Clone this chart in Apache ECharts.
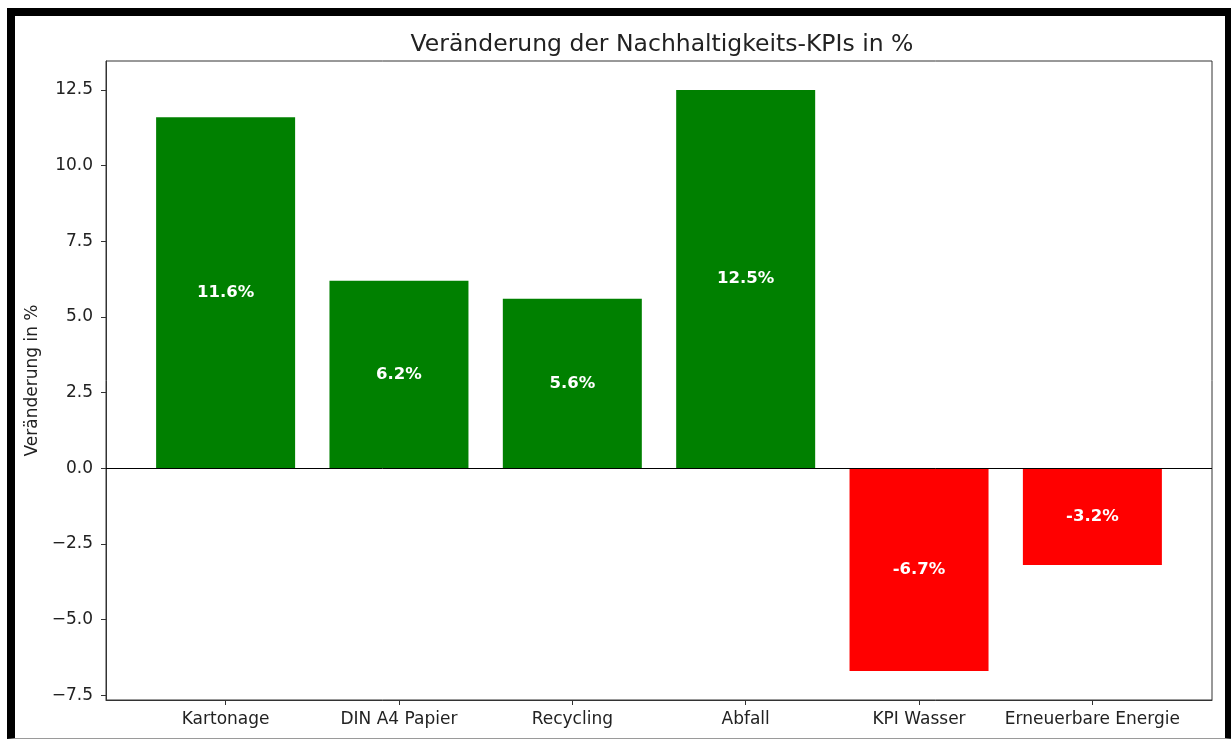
<!DOCTYPE html>
<html>
<head>
<meta charset="utf-8">
<script src="https://cdn.jsdelivr.net/npm/echarts@6/dist/echarts.min.js"></script>
<style>
  html, body { margin: 0; padding: 0; background: #fff; }
  .frame {
    position: absolute;
    left: 7px;
    top: 8px;
    width: 1226px;
    height: 731px;
    box-sizing: border-box;
    border: 8px solid #000;
    border-bottom: 1px solid #9a9a9a;
    background: #fff;
  }
  #chart {
    position: absolute;
    left: 0;
    top: 0;
    width: 1231px;
    height: 740px;
  }
</style>
</head>
<body>
<div class="frame"></div>
<div id="chart"></div>
<script>
const categories = ['Kartonage', 'DIN A4 Papier', 'Recycling', 'Abfall', 'KPI Wasser', 'Erneuerbare Energie']
const changes = [11.6, 6.2, 5.6, 12.5, -6.7, -3.2]
const yTicks = [-7.5, -5.0, -2.5, 0.0, 2.5, 5.0, 7.5, 10.0, 12.5]
const xTicks = categories.map((_, i) => i)

const font = 'DejaVu Sans'
const inkColor = '#222'
const spineColor = '#333'

const chart = echarts.init(document.getElementById('chart'), null, { renderer: 'canvas' })

const barData = changes.map((value, index) => ({
  value: [index, value],
  itemStyle: { color: value >= 0 ? '#008000' : '#ff0000' },
}))

chart.setOption({
  backgroundColor: 'transparent',
  animation: false,
  textStyle: { fontFamily: font },
  title: {
    text: 'Veränderung der Nachhaltigkeits-KPIs in %',
    left: 657,
    top: 28,
    textAlign: 'center',
    textStyle: { fontFamily: font, fontSize: 23.5, fontWeight: 'normal', color: inkColor },
  },
  grid: {
    left: 106,
    top: 61,
    width: 1106,
    height: 639,
    show: true,
    borderColor: spineColor,
    borderWidth: 1,
    backgroundColor: 'transparent',
  },
  xAxis: {
    type: 'value',
    min: -0.69,
    max: 5.69,
    splitLine: { show: false },
    axisLine: { show: true, onZero: false, lineStyle: { color: spineColor, width: 1 } },
    axisTick: {
      show: true,
      customValues: xTicks,
      length: 5,
      lineStyle: { color: spineColor },
    },
    axisLabel: {
      customValues: xTicks,
      formatter: (v) => categories[Math.round(v)] || '',
      fontFamily: font,
      fontSize: 17,
      color: inkColor,
      margin: 11,
    },
  },
  yAxis: {
    type: 'value',
    min: -7.66,
    max: 13.46,
    name: 'Veränderung in %',
    nameLocation: 'middle',
    nameGap: 63,
    nameTextStyle: { fontFamily: font, fontSize: 17, color: inkColor },
    splitLine: { show: false },
    axisLine: { show: true, onZero: false, lineStyle: { color: spineColor, width: 1 } },
    axisTick: {
      show: true,
      customValues: yTicks,
      length: 5,
      lineStyle: { color: spineColor },
    },
    axisLabel: {
      customValues: yTicks,
      formatter: (v) => v.toFixed(1).replace('-', '\u2212'),
      fontFamily: font,
      fontSize: 17,
      color: inkColor,
      margin: 13,
    },
  },
  series: [
    {
      type: 'bar',
      barWidth: 139,
      data: barData,
      label: {
        show: true,
        position: 'inside',
        formatter: (p) => p.value[1].toFixed(1) + '%',
        color: '#fff',
        fontWeight: 'bold',
        fontFamily: font,
        fontSize: 16.5,
      },
      markLine: {
        silent: true,
        symbol: 'none',
        label: { show: false },
        lineStyle: { color: '#000', width: 1, type: 'solid' },
        data: [{ yAxis: 0 }],
      },
    },
  ],
})
</script>
</body>
</html>
